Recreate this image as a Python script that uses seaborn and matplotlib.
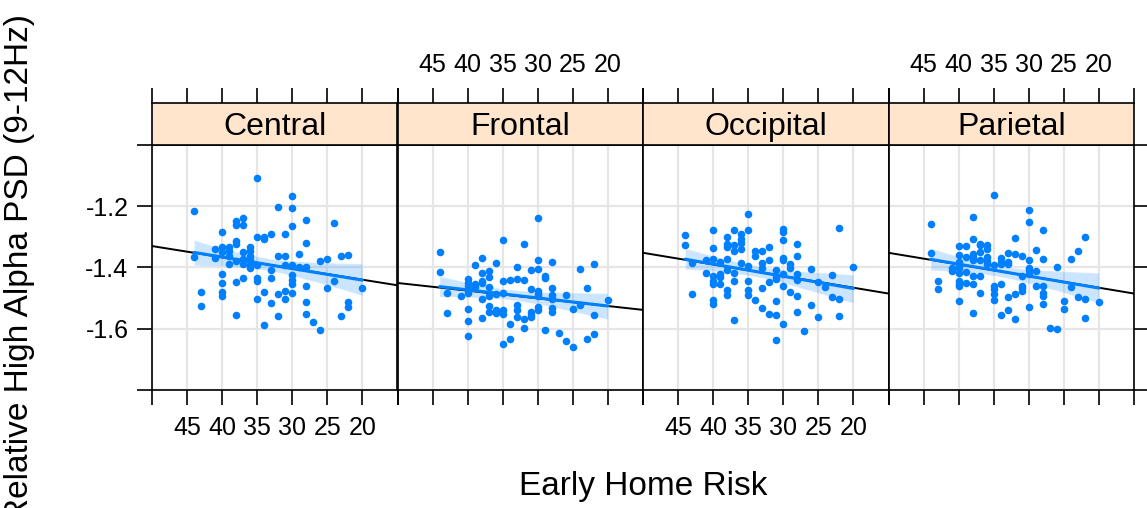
import numpy as np
import pandas as pd
import seaborn as sns
import matplotlib.pyplot as plt

# Relative high alpha PSD vs early home risk, one panel per scalp region
regions = ["Central", "Frontal", "Occipital", "Parietal"]

central_risk = [44, 44, 43, 43, 41, 41,
                40, 40, 40, 40, 40, 40, 40,
                39, 39, 39, 39,
                38, 38, 38, 38, 38, 38, 38,
                37, 37, 37, 37, 37, 37,
                36, 36, 36, 36, 36, 36,
                35, 35, 35, 35, 35, 35,
                34, 34, 34, 34,
                33, 33, 33, 33,
                32, 32, 32, 32,
                31, 31, 31, 31, 31,
                30, 30, 30, 30, 30, 30, 30, 30,
                29, 29,
                28, 28, 28, 28, 28, 28,
                27, 26, 26, 25, 25, 24, 24, 23, 23, 22, 22, 22, 20]
central_psd = [-1.216, -1.367, -1.481, -1.526, -1.340, -1.369,
               -1.284, -1.334, -1.349, -1.421, -1.451, -1.481, -1.494,
               -1.334, -1.345, -1.361, -1.387,
               -1.247, -1.260, -1.314, -1.322, -1.380, -1.446, -1.555,
               -1.238, -1.262, -1.348, -1.372, -1.387, -1.434,
               -1.333, -1.347, -1.364, -1.377, -1.391, -1.402,
               -1.107, -1.301, -1.392, -1.434, -1.445, -1.504,
               -1.300, -1.308, -1.481, -1.588,
               -1.290, -1.407, -1.433, -1.516,
               -1.203, -1.364, -1.488, -1.558,
               -1.289, -1.361, -1.392, -1.477, -1.503,
               -1.166, -1.207, -1.263, -1.391, -1.426, -1.440, -1.453, -1.483,
               -1.356, -1.398,
               -1.244, -1.321, -1.399, -1.459, -1.514, -1.553,
               -1.578, -1.379, -1.604, -1.371, -1.467, -1.255, -1.443,
               -1.364, -1.558, -1.358, -1.512, -1.530, -1.467]

frontal_risk = [44, 44, 43, 43, 41,
                40, 40, 40, 40, 40, 40, 40, 40,
                39, 39, 39,
                38, 38, 38, 38, 38, 38,
                37, 37, 37, 37, 37, 37,
                36, 36, 36, 36,
                35, 35, 35, 35, 35, 35,
                34, 34, 34,
                33, 33, 33, 33, 33,
                32, 32, 32, 32,
                31, 31, 31, 31, 31,
                30, 30, 30, 30, 30, 30, 30, 30,
                29, 29, 29,
                28, 28, 28, 28, 28, 28,
                27, 26, 26, 25, 25, 24, 24, 23, 23, 22, 22, 22, 20]
frontal_psd = [-1.348, -1.416, -1.484, -1.550, -1.493,
               -1.438, -1.449, -1.462, -1.473, -1.483, -1.535, -1.574, -1.625,
               -1.392, -1.453, -1.464,
               -1.369, -1.419, -1.445, -1.451, -1.502, -1.566,
               -1.413, -1.431, -1.464, -1.492, -1.527, -1.546,
               -1.384, -1.486, -1.540, -1.549,
               -1.310, -1.443, -1.483, -1.538, -1.551, -1.649,
               -1.441, -1.585, -1.634,
               -1.397, -1.438, -1.522, -1.540, -1.563,
               -1.323, -1.441, -1.568, -1.597,
               -1.409, -1.469, -1.546, -1.555, -1.563,
               -1.238, -1.376, -1.405, -1.478, -1.486, -1.494, -1.530, -1.540,
               -1.427, -1.435, -1.603,
               -1.383, -1.467, -1.491, -1.503, -1.532, -1.546,
               -1.615, -1.489, -1.641, -1.537, -1.658, -1.405, -1.524,
               -1.466, -1.634, -1.389, -1.554, -1.617, -1.506]

occipital_risk = [44, 44, 43, 43, 41, 41,
                  40, 40, 40, 40, 40, 40, 40, 40,
                  39, 39, 39, 39,
                  38, 38, 38, 38, 38, 38, 38,
                  37, 37, 37, 37, 37, 37,
                  36, 36, 36, 36, 36,
                  35, 35, 35, 35, 35, 35,
                  34, 34, 34,
                  33, 33, 33, 33, 33,
                  32, 32, 32, 32,
                  31, 31, 31, 31, 31, 31,
                  30, 30, 30, 30, 30, 30, 30, 30,
                  29, 29, 29,
                  28, 28, 28, 28, 28, 28,
                  27, 26, 26, 25, 25, 24, 23, 23, 22, 22, 22, 20]
occipital_psd = [-1.294, -1.326, -1.385, -1.487, -1.377, -1.419,
                 -1.276, -1.337, -1.371, -1.427, -1.444, -1.453, -1.507, -1.518,
                 -1.383, -1.421, -1.432, -1.453,
                 -1.300, -1.324, -1.333, -1.372, -1.409, -1.475, -1.490,
                 -1.278, -1.326, -1.347, -1.418, -1.443, -1.571,
                 -1.290, -1.307, -1.320, -1.338, -1.386,
                 -1.225, -1.276, -1.394, -1.443, -1.473, -1.490,
                 -1.347, -1.364, -1.505,
                 -1.345, -1.385, -1.401, -1.468, -1.531,
                 -1.332, -1.374, -1.446, -1.553,
                 -1.409, -1.431, -1.439, -1.508, -1.554, -1.638,
                 -1.274, -1.285, -1.311, -1.369, -1.374, -1.421, -1.459, -1.585,
                 -1.387, -1.402, -1.480,
                 -1.323, -1.361, -1.420, -1.441, -1.492, -1.546,
                 -1.607, -1.405, -1.522, -1.446, -1.561, -1.463,
                 -1.423, -1.496, -1.270, -1.504, -1.558, -1.398]

parietal_risk = [44, 44, 43, 43, 41, 41,
                 40, 40, 40, 40, 40, 40, 40, 40, 40, 40,
                 39, 39, 39, 39,
                 38, 38, 38, 38, 38, 38, 38, 38,
                 37, 37, 37, 37, 37, 37,
                 36, 36, 36, 36, 36,
                 35, 35, 35, 35, 35, 35,
                 34, 34, 34, 34, 34,
                 33, 33, 33, 33, 33,
                 32, 32, 32, 32,
                 31, 31, 31, 31, 31,
                 30, 30, 30, 30, 30, 30, 30,
                 29, 29, 29,
                 28, 28, 28, 28, 28, 28,
                 27, 26, 26, 25, 25, 24, 24, 23, 23, 22, 22, 22, 20]
parietal_psd = [-1.259, -1.352, -1.444, -1.469, -1.402, -1.413,
                -1.329, -1.359, -1.383, -1.391, -1.402, -1.418, -1.445, -1.453, -1.462, -1.511,
                -1.330, -1.366, -1.416, -1.451,
                -1.234, -1.306, -1.356, -1.367, -1.374, -1.429, -1.453, -1.549,
                -1.322, -1.328, -1.349, -1.375, -1.429, -1.483,
                -1.326, -1.338, -1.366, -1.378, -1.389,
                -1.164, -1.393, -1.459, -1.470, -1.486, -1.505,
                -1.369, -1.382, -1.387, -1.453, -1.556,
                -1.354, -1.383, -1.390, -1.496, -1.538,
                -1.304, -1.355, -1.488, -1.568,
                -1.362, -1.427, -1.459, -1.468, -1.478,
                -1.212, -1.252, -1.374, -1.403, -1.409, -1.421, -1.529,
                -1.342, -1.413, -1.459,
                -1.278, -1.372, -1.462, -1.483, -1.494, -1.520,
                -1.597, -1.398, -1.600, -1.508, -1.534, -1.371, -1.463,
                -1.347, -1.495, -1.301, -1.503, -1.565, -1.514]

# population-level (fixed effect) line per region: intercept, slope
fixed_intercept = [-1.513, -1.576, -1.542, -1.542]
fixed_slope = [0.00366, 0.00251, 0.0038, 0.0038]

risk_ticks = [50, 45, 40, 35, 30, 25, 20, 15]
risk_labels = ["", "45", "40", "35", "30", "25", "20", ""]
psd_ticks = [-1.8, -1.6, -1.4, -1.2, -1.0]
psd_labels = ["", "-1.6", "-1.4", "-1.2", ""]

df = pd.concat([
    pd.DataFrame({"region": "Central", "risk": central_risk, "psd": central_psd}),
    pd.DataFrame({"region": "Frontal", "risk": frontal_risk, "psd": frontal_psd}),
    pd.DataFrame({"region": "Occipital", "risk": occipital_risk, "psd": occipital_psd}),
    pd.DataFrame({"region": "Parietal", "risk": parietal_risk, "psd": parietal_psd}),
])

sns.set_theme(style="white", rc={"axes.edgecolor": "black", "xtick.color": "black",
                                 "ytick.color": "black", "text.color": "black",
                                 "axes.labelcolor": "black", "axes.linewidth": 1.2})
plt.rcParams["font.family"] = ["Liberation Sans", "DejaVu Sans"]

W, H = 1147, 508
fig = plt.figure(figsize=(W / 100, H / 100), dpi=100)
left_px, right_px = 152, 1134
pw = (right_px - left_px) / 4
blue = "#0080ff"

for i, reg in enumerate(regions):
    x0 = (left_px + i * pw) / W
    ax = fig.add_axes([x0, 1 - 390 / H, pw / W, 245 / H])
    sax = fig.add_axes([x0, 1 - 145 / H, pw / W, 42 / H], sharex=ax)

    sub = df[df["region"] == reg]
    ax.axline((0, fixed_intercept[i]), slope=fixed_slope[i], color="black", lw=1.4, zorder=1.5)
    sns.regplot(data=sub, x="risk", y="psd", ax=ax, color=blue, seed=7,
                scatter_kws=dict(s=30, linewidths=0, alpha=1, zorder=3),
                line_kws=dict(lw=2.2, zorder=2.5))
    # slightly stronger confidence band, as in the original
    for coll in ax.collections[1:]:
        coll.set_alpha(0.2)

    ax.set_xlim(50, 15)
    ax.set_ylim(-1.8, -1.0)
    ax.set_xticks(risk_ticks)
    ax.set_xticklabels(risk_labels)
    ax.set_yticks(psd_ticks)
    ax.set_yticklabels(psd_labels)
    ax.set_xlabel("")
    ax.set_ylabel("")
    ax.grid(True, color="#e6e6e6", lw=1.6)
    ax.set_axisbelow(True)
    ax.tick_params(axis="x", direction="out", length=11, width=1.2, labelsize=18, pad=8,
                   bottom=True, top=False, labelbottom=(i in (0, 2)), labeltop=False)
    ax.tick_params(axis="y", direction="out", length=11, width=1.2, labelsize=18, pad=6,
                   left=(i == 0), labelleft=(i == 0), right=(i == 3), labelright=False)

    sax.set_facecolor("#ffe5cc")
    sax.grid(False)
    sax.set_yticks([])
    sax.tick_params(axis="x", direction="out", length=11, width=1.2, labelsize=18, pad=8,
                    bottom=False, top=True, labelbottom=False, labeltop=(i in (1, 3)))
    sax.text(0.5, 0.42, reg, transform=sax.transAxes, ha="center", va="center", fontsize=23)

fig.text(643 / W, 1 - 487 / H, "Early Home Risk", ha="center", va="center", fontsize=24)
fig.text(20 / W, 1 - 268 / H, "Relative High Alpha PSD (9-12Hz)", ha="center", va="center",
         rotation=90, fontsize=24)

fig.savefig("out.png", dpi=100)
